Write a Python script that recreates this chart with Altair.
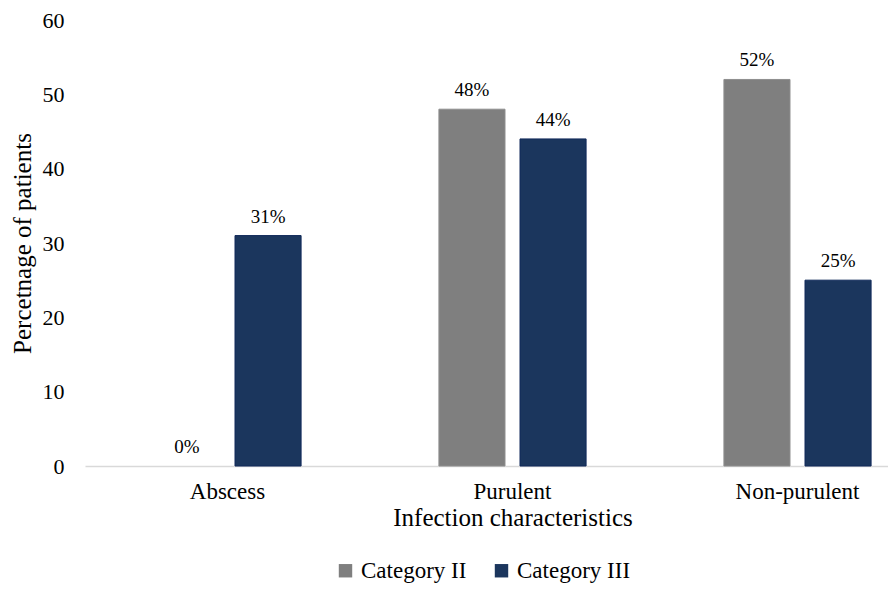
import altair as alt
import pandas as pd

categories = ["Abscess", "Purulent", "Non-purulent"]
series = ["Category II", "Category III"]
cat2_values = [0, 48, 52]
cat3_values = [31, 44, 25]
y_ticks = [0, 10, 20, 30, 40, 50, 60]
fill_colors = ["#7f7f7f", "#1b365d"]
border_colors = ["#8f8f8f", "#10295a"]

rows = []
for c, a, b in zip(categories, cat2_values, cat3_values):
    rows.append({"cat": c, "series": series[0], "value": a})
    rows.append({"cat": c, "series": series[1], "value": b})
df = pd.DataFrame(rows)
df["label"] = df["value"].astype(str) + "%"

FONT = "Liberation Serif, Times New Roman, Times, DejaVu Serif, serif"

x_enc = alt.X(
    "cat:N",
    sort=categories,
    scale=alt.Scale(range=[0, 855], paddingInner=0, paddingOuter=0),
    axis=alt.Axis(
        title="Infection characteristics",
        labelAngle=0,
        ticks=False,
        domainColor="#d9d9d9",
        domainWidth=1.5,
        labelFontSize=23,
        titleFontSize=25,
        labelPadding=14,
        titlePadding=2,
        labelColor="#000000",
        titleColor="#000000",
        titleFontWeight="normal",
        labelFont=FONT,
        titleFont=FONT,
    ),
)
xoff_enc = alt.XOffset(
    "series:N",
    sort=series,
    scale=alt.Scale(paddingInner=0.185, paddingOuter=0.85),
)
y_enc = alt.Y(
    "value:Q",
    scale=alt.Scale(domain=[0, 60], nice=False),
    axis=alt.Axis(
        values=y_ticks,
        grid=False,
        ticks=False,
        domain=False,
        labelPadding=21,
        labelFontSize=22,
        labelFont=FONT,
        labelColor="#000000",
        title="Percetnage of patients",
        titleFont=FONT,
        titleFontSize=25,
        titleFontWeight="normal",
        titleColor="#000000",
        titlePadding=7,
    ),
)

bars = alt.Chart(df).mark_bar(strokeWidth=1).encode(
    x=x_enc,
    xOffset=xoff_enc,
    y=y_enc,
    fill=alt.Fill(
        "series:N",
        sort=series,
        scale=alt.Scale(domain=series, range=fill_colors),
        legend=alt.Legend(
            title=None,
            orient="none",
            legendX=249,
            legendY=539,
            direction="horizontal",
            symbolType="square",
            symbolSize=180,
            symbolStrokeWidth=0,
            labelFont=FONT,
            labelFontSize=23,
            labelColor="#000000",
            labelOffset=4,
            columnPadding=23,
        ),
    ),
    stroke=alt.Stroke(
        "series:N",
        sort=series,
        scale=alt.Scale(domain=series, range=border_colors),
        legend=None,
    ),
    strokeOpacity=alt.condition("datum.value > 0", alt.value(1), alt.value(0)),
)

labels = alt.Chart(df).mark_text(
    baseline="bottom", dy=-9, fontSize=19, font=FONT, color="#000000"
).encode(
    x=alt.X("cat:N", sort=categories),
    xOffset=alt.XOffset("series:N", sort=series),
    y=alt.Y("value:Q"),
    text="label:N",
)

chart = (
    alt.layer(bars, labels)
    .properties(
        width=803,
        height=446,
        autosize=alt.AutoSizeParams(type="none"),
        padding={"left": 77, "top": 12, "right": 0, "bottom": 118},
        background="#ffffff",
    )
    .configure_view(stroke=None)
)

chart.save("out.html", embed_options={"renderer": "svg", "actions": False})
